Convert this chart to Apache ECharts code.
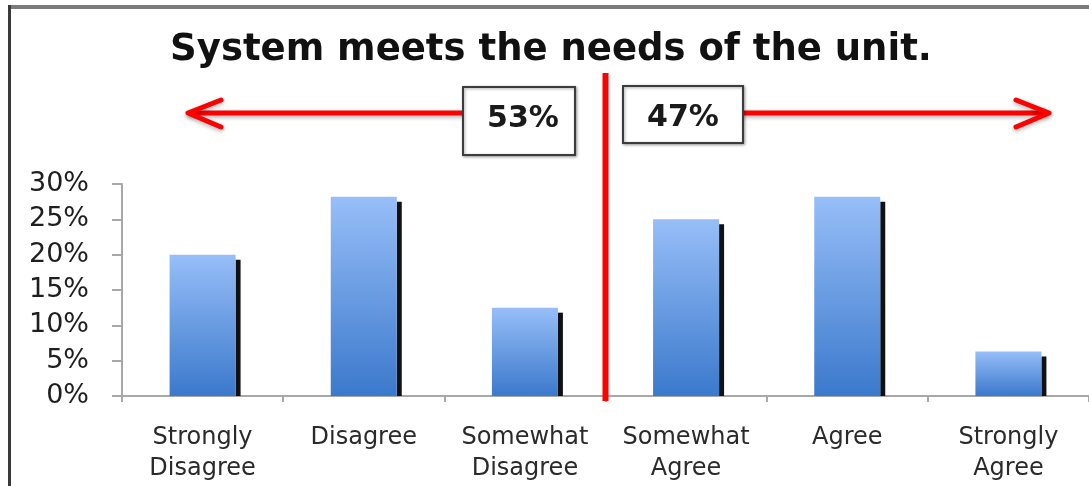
<!DOCTYPE html>
<html>
<head>
<meta charset="utf-8">
<script src="https://cdn.jsdelivr.net/npm/echarts@6/dist/echarts.min.js"></script>
<style>
  html, body { margin: 0; padding: 0; background: #ffffff; }
  #chart { width: 1089px; height: 486px; }
</style>
</head>
<body>
<div id="chart"></div>
<script>
// Survey answers, left (disagree) to right (agree)
const categories = ['Strongly\nDisagree', 'Disagree', 'Somewhat\nDisagree', 'Somewhat\nAgree', 'Agree', 'Strongly\nAgree'];
const shares = [20, 28.2, 12.5, 25, 28.2, 6.3];

// Value axis range (percent)
const yMin = 0;
const yMax = 30;
const yStep = 5;

const titleText = 'System meets the needs of the unit.';
const sideTotals = ['53%', '47%'];   // disagree side, agree side

const FONT = 'DejaVu Sans';
const BAR_W = 66;

const chart = echarts.init(document.getElementById('chart'), null, { renderer: 'canvas' });

chart.setOption({
  backgroundColor: '#ffffff',
  animation: false,
  grid: { left: 122, top: 184, width: 972, height: 212, containLabel: false },
  xAxis: {
    type: 'category',
    data: categories,
    axisLine: { lineStyle: { color: '#a8a8a8', width: 2 } },
    axisTick: { show: true, length: 6, lineStyle: { color: '#a8a8a8', width: 2 } },
    axisLabel: {
      interval: 0,
      margin: 26,
      color: '#2a2a2a',
      fontFamily: FONT,
      fontSize: 24,
      lineHeight: 31
    },
    splitLine: { show: false }
  },
  yAxis: {
    type: 'value',
    min: yMin,
    max: yMax,
    interval: yStep,
    axisLine: { show: true, lineStyle: { color: '#a8a8a8', width: 2 } },
    axisTick: { show: true, length: 10, lineStyle: { color: '#a8a8a8', width: 2 } },
    axisLabel: {
      formatter: '{value}%',
      margin: 33,
      color: '#1e1e1e',
      fontFamily: FONT,
      fontSize: 27
    },
    splitLine: { show: false }
  },
  series: [
    {
      type: 'bar',
      data: shares,
      barWidth: BAR_W,
      itemStyle: {
        color: new echarts.graphic.LinearGradient(0, 0, 0, 1, [
          { offset: 0, color: '#97bef8' },
          { offset: 1, color: '#3b79cc' }
        ])
      },
      z: 2
    },
    {
      // dark edge strip along the right side of each bar
      type: 'custom',
      data: shares.map((v, i) => [i, v]),
      encode: { x: 0, y: 1 },
      renderItem: function (params, api) {
        const top = api.coord([api.value(0), api.value(1)]);
        const base = api.coord([api.value(0), 0]);
        const x = top[0] + BAR_W / 2;
        return {
          type: 'rect',
          shape: { x: x, y: top[1] + 5, width: 5, height: base[1] - top[1] - 5 },
          style: { fill: '#111111' }
        };
      },
      z: 2
    }
  ]
});

// Divider between the disagree and agree halves, at the category boundary
const xLeftMid = chart.convertToPixel({ xAxisIndex: 0 }, 2);
const xRightMid = chart.convertToPixel({ xAxisIndex: 0 }, 3);
const dividerX = (xLeftMid + xRightMid) / 2;
const axisY = chart.convertToPixel({ yAxisIndex: 0 }, 0);

const arrowStyle = {
  stroke: '#ff0000',
  lineWidth: 5,
  lineCap: 'round',
  lineJoin: 'round',
  fill: null,
  shadowBlur: 4,
  shadowOffsetY: 2,
  shadowColor: 'rgba(0,0,0,0.3)'
};
const boxStyle = {
  fill: '#ffffff',
  stroke: '#3c3c3c',
  lineWidth: 2,
  shadowBlur: 3,
  shadowOffsetX: 1,
  shadowOffsetY: 1,
  shadowColor: 'rgba(0,0,0,0.35)'
};
const boxText = {
  fill: '#1a1a1a',
  font: 'bold 30px "' + FONT + '"',
  align: 'center',
  verticalAlign: 'middle'
};

chart.setOption({
  graphic: [
    // frame edges
    { type: 'rect', shape: { x: 8, y: 5, width: 1081, height: 4 }, style: { fill: '#7b7b7b' }, z: 10 },
    { type: 'rect', shape: { x: 8, y: 5, width: 3, height: 481 }, style: { fill: '#3a3a3a' }, z: 10 },
    // title
    {
      type: 'text', x: 551, y: 50, z: 10,
      style: {
        text: titleText,
        fill: '#111111',
        font: 'bold 37px "' + FONT + '"',
        align: 'center',
        verticalAlign: 'middle'
      }
    },
    // red divider
    {
      type: 'line', z: 20,
      shape: { x1: dividerX, y1: 73, x2: dividerX, y2: axisY + 5 },
      style: { stroke: '#ff0000', lineWidth: 6 }
    },
    // left arrow
    { type: 'line', z: 15, shape: { x1: 463, y1: 113, x2: 190, y2: 113 }, style: arrowStyle },
    { type: 'polyline', z: 15, shape: { points: [[221, 100], [188, 113], [221, 127]] }, style: arrowStyle },
    // right arrow
    { type: 'line', z: 15, shape: { x1: 743, y1: 113, x2: 1047, y2: 113 }, style: arrowStyle },
    { type: 'polyline', z: 15, shape: { points: [[1016, 100], [1049, 113], [1016, 127]] }, style: arrowStyle },
    // total boxes
    { type: 'rect', z: 16, shape: { x: 463, y: 87, width: 112, height: 68 }, style: boxStyle },
    { type: 'text', z: 17, x: 523, y: 119, style: Object.assign({ text: sideTotals[0] }, boxText) },
    { type: 'rect', z: 16, shape: { x: 623, y: 86, width: 120, height: 57 }, style: boxStyle },
    { type: 'text', z: 17, x: 683, y: 118, style: Object.assign({ text: sideTotals[1] }, boxText) }
  ]
});
</script>
</body>
</html>
